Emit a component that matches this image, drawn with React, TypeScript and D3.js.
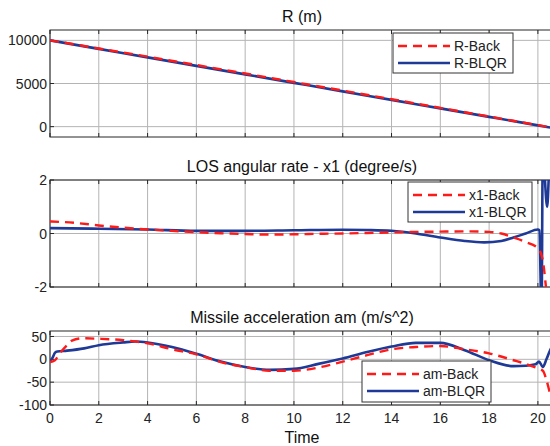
import React, { useEffect, useRef } from "react";
import * as d3 from "d3";

// time ticks shared by all three panels
const timeTicks = [0, 2, 4, 6, 8, 10, 12, 14, 16, 18, 20];

// R (m)
const rTime = [0, 2, 4, 6, 8, 10, 12, 14, 16, 18, 20, 20.5];
const rBack = [10000, 9060, 8110, 7140, 6160, 5170, 4180, 3180, 2180, 1170, 170, -80];
const rBlqr = [10000, 9015, 8030, 7045, 6060, 5075, 4090, 3100, 2115, 1130, 145, -100];

// LOS angular rate x1 (degree/s)
const x1BackTime = [0, 1, 2, 3, 4, 5, 6, 7, 8, 9, 10, 11, 12, 13, 14, 15, 16, 17, 18, 18.5, 19, 19.5, 20, 20.2, 20.4, 20.6];
const x1Back = [0.45, 0.4, 0.3, 0.22, 0.15, 0.1, 0.05, 0.01, -0.02, -0.04, -0.03, -0.01, 0, 0.02, 0.04, 0.06, 0.07, 0.08, 0.06, 0, -0.15, -0.32, -0.55, -1.0, -2.5, -3];
const x1BlqrTime = [0, 2, 4, 6, 8, 10, 12, 13, 14, 15, 16, 17, 17.8, 18.5, 19, 19.5, 20, 20.06, 20.15, 20.2, 20.38, 20.5, 20.6];
const x1Blqr = [0.2, 0.18, 0.15, 0.1, 0.1, 0.12, 0.14, 0.13, 0.1, 0.0, -0.15, -0.28, -0.33, -0.28, -0.15, 0.0, 0.15, 0.12, -3, 3, 1.0, 3, 3];

// Missile acceleration am (m/s^2)
const amBackTime = [0, 0.2, 0.4, 0.7, 0.9, 1.35, 2, 3, 4, 5, 6, 7, 8, 9, 10, 11, 12, 13, 14, 15, 16, 17, 18, 19, 19.5, 20, 20.2, 20.35, 20.5, 20.6];
const amBack = [-6, -2, 13, 31, 41, 46, 45, 42, 35, 22, 11, -6, -17, -25, -25, -18, -5, 9, 22, 27, 29, 22, 13, -2, -10, -20, -25, -45, -75, -90];
const amBlqrTime = [0, 0.1, 0.2, 0.3, 0.7, 1.4, 2, 3, 3.5, 4, 5, 6, 7, 8, 9, 10, 11, 12, 13, 14, 15, 16, 17, 18, 19, 19.5, 19.9, 20.05, 20.2, 20.35, 20.5, 20.6];
const amBlqr = [-4, 3, 14, 17, 19, 24, 31, 37, 39, 37, 27, 12, -5, -17, -23, -21, -10, 2, 16, 28, 36, 36, 20, -2, -15, -14, -11, -5, -17, 0, 20, 30];

const panels = [
  {
    title: "R (m)",
    top: 30, bottom: 137,
    domain: [-1200, 11200], ticks: [0, 5000, 10000],
    back: { t: rTime, v: rBack, name: "R-Back" },
    blqr: { t: rTime, v: rBlqr, name: "R-BLQR" },
    legend: { x: 393, y: 33, w: 120, h: 40 },
  },
  {
    title: "LOS angular rate - x1 (degree/s)",
    top: 180, bottom: 287,
    domain: [-2, 2], ticks: [-2, 0, 2],
    back: { t: x1BackTime, v: x1Back, name: "x1-Back" },
    blqr: { t: x1BlqrTime, v: x1Blqr, name: "x1-BLQR" },
    legend: { x: 408, y: 182, w: 124, h: 40 },
  },
  {
    title: "Missile acceleration am (m/s^2)",
    top: 331, bottom: 405,
    domain: [-100, 62], ticks: [-100, -50, 0, 50],
    back: { t: amBackTime, v: amBack, name: "am-Back" },
    blqr: { t: amBlqrTime, v: amBlqr, name: "am-BLQR" },
    legend: { x: 362, y: 361, w: 129, h: 41 },
  },
];

const RED = "#ff1a1a";
const BLUE = "#1f3a96";
const FONT = "'Liberation Sans', Arial, sans-serif";

export default function App() {
  const svgRef = useRef<SVGSVGElement>(null);

  useEffect(() => {
    const width = 550;
    const height = 446;
    const left = 50;
    const right = 554;

    const svg = d3.select(svgRef.current);
    svg.selectAll("*").remove();
    svg.attr("width", width).attr("height", height);

    svg.append("rect").attr("width", width).attr("height", height).attr("fill", "#fff");

    const x = d3.scaleLinear().domain([0, 20.66]).range([left, right]);

    panels.forEach((p, i) => {
      const y = d3.scaleLinear().domain(p.domain).range([p.bottom, p.top]);
      const g = svg.append("g");

      g.append("defs")
        .append("clipPath")
        .attr("id", `clip${i}`)
        .append("rect")
        .attr("x", left)
        .attr("y", p.top)
        .attr("width", right - left)
        .attr("height", p.bottom - p.top);

      // grid
      g.selectAll("line.vgrid")
        .data(timeTicks)
        .join("line")
        .attr("x1", (d) => x(d))
        .attr("x2", (d) => x(d))
        .attr("y1", p.top)
        .attr("y2", p.bottom)
        .attr("stroke", "#b4b4b4")
        .attr("stroke-width", 1);
      g.selectAll("line.hgrid")
        .data(p.ticks)
        .join("line")
        .attr("x1", left)
        .attr("x2", right)
        .attr("y1", (d) => y(d))
        .attr("y2", (d) => y(d))
        .attr("stroke", "#b4b4b4")
        .attr("stroke-width", 1);

      // small inner ticks
      timeTicks.forEach((d) => {
        g.append("line").attr("x1", x(d)).attr("x2", x(d)).attr("y1", p.bottom).attr("y2", p.bottom - 4).attr("stroke", "#262626");
        g.append("line").attr("x1", x(d)).attr("x2", x(d)).attr("y1", p.top).attr("y2", p.top + 4).attr("stroke", "#262626");
      });
      p.ticks.forEach((d) => {
        g.append("line").attr("x1", left).attr("x2", left + 4).attr("y1", y(d)).attr("y2", y(d)).attr("stroke", "#262626");
      });

      // box
      g.append("rect")
        .attr("x", left)
        .attr("y", p.top)
        .attr("width", right - left)
        .attr("height", p.bottom - p.top)
        .attr("fill", "none")
        .attr("stroke", "#262626")
        .attr("stroke-width", 1);

      // y tick labels
      g.selectAll("text.ytick")
        .data(p.ticks)
        .join("text")
        .attr("x", left - 3)
        .attr("y", (d) => y(d))
        .attr("dy", "0.36em")
        .attr("text-anchor", "end")
        .style("font", `14px ${FONT}`)
        .attr("fill", "#222")
        .text((d) => String(d));

      // title
      g.append("text")
        .attr("x", (left + right) / 2)
        .attr("y", p.top - 8)
        .attr("text-anchor", "middle")
        .style("font", `16px ${FONT}`)
        .attr("fill", "#111")
        .text(p.title);

      const line = d3
        .line<[number, number]>()
        .x((d) => x(d[0]))
        .y((d) => y(d[1]))
        .curve(d3.curveMonotoneX);

      const plot = g.append("g").attr("clip-path", `url(#clip${i})`);
      plot.append("path")
        .attr("d", line(p.blqr.t.map((t, k) => [t, p.blqr.v[k]] as [number, number])))
        .attr("fill", "none")
        .attr("stroke", BLUE)
        .attr("stroke-width", 2.6);
      plot.append("path")
        .attr("d", line(p.back.t.map((t, k) => [t, p.back.v[k]] as [number, number])))
        .attr("fill", "none")
        .attr("stroke", RED)
        .attr("stroke-width", 2.4)
        .attr("stroke-dasharray", "9,6");

      // legend
      const L = p.legend;
      const lg = g.append("g");
      lg.append("rect")
        .attr("x", L.x).attr("y", L.y).attr("width", L.w).attr("height", L.h)
        .attr("fill", "#fff").attr("stroke", "#333").attr("stroke-width", 1);
      const rows = [
        { name: p.back.name, color: RED, dash: "9,6", yy: L.y + 13 },
        { name: p.blqr.name, color: BLUE, dash: null, yy: L.y + 30 },
      ];
      rows.forEach((r) => {
        lg.append("line")
          .attr("x1", L.x + 5).attr("x2", L.x + 57)
          .attr("y1", r.yy).attr("y2", r.yy)
          .attr("stroke", r.color)
          .attr("stroke-width", r.dash ? 2.4 : 2.6)
          .attr("stroke-dasharray", r.dash);
        lg.append("text")
          .attr("x", L.x + 61).attr("y", r.yy).attr("dy", "0.36em")
          .style("font", `14px ${FONT}`).attr("fill", "#222")
          .text(r.name);
      });

      if (i === panels.length - 1) {
        g.selectAll("text.xtick")
          .data(timeTicks)
          .join("text")
          .attr("x", (d) => x(d))
          .attr("y", p.bottom + 18)
          .attr("text-anchor", "middle")
          .style("font", `14px ${FONT}`)
          .attr("fill", "#222")
          .text((d) => String(d));
        g.append("text")
          .attr("x", (left + right) / 2)
          .attr("y", p.bottom + 38)
          .attr("text-anchor", "middle")
          .style("font", `16px ${FONT}`)
          .attr("fill", "#111")
          .text("Time");
      }
    });
  }, []);

  return (
    <div style={{ position: "absolute", left: 0, top: 0 }}>
      <svg ref={svgRef} style={{ display: "block" }} />
    </div>
  );
}
